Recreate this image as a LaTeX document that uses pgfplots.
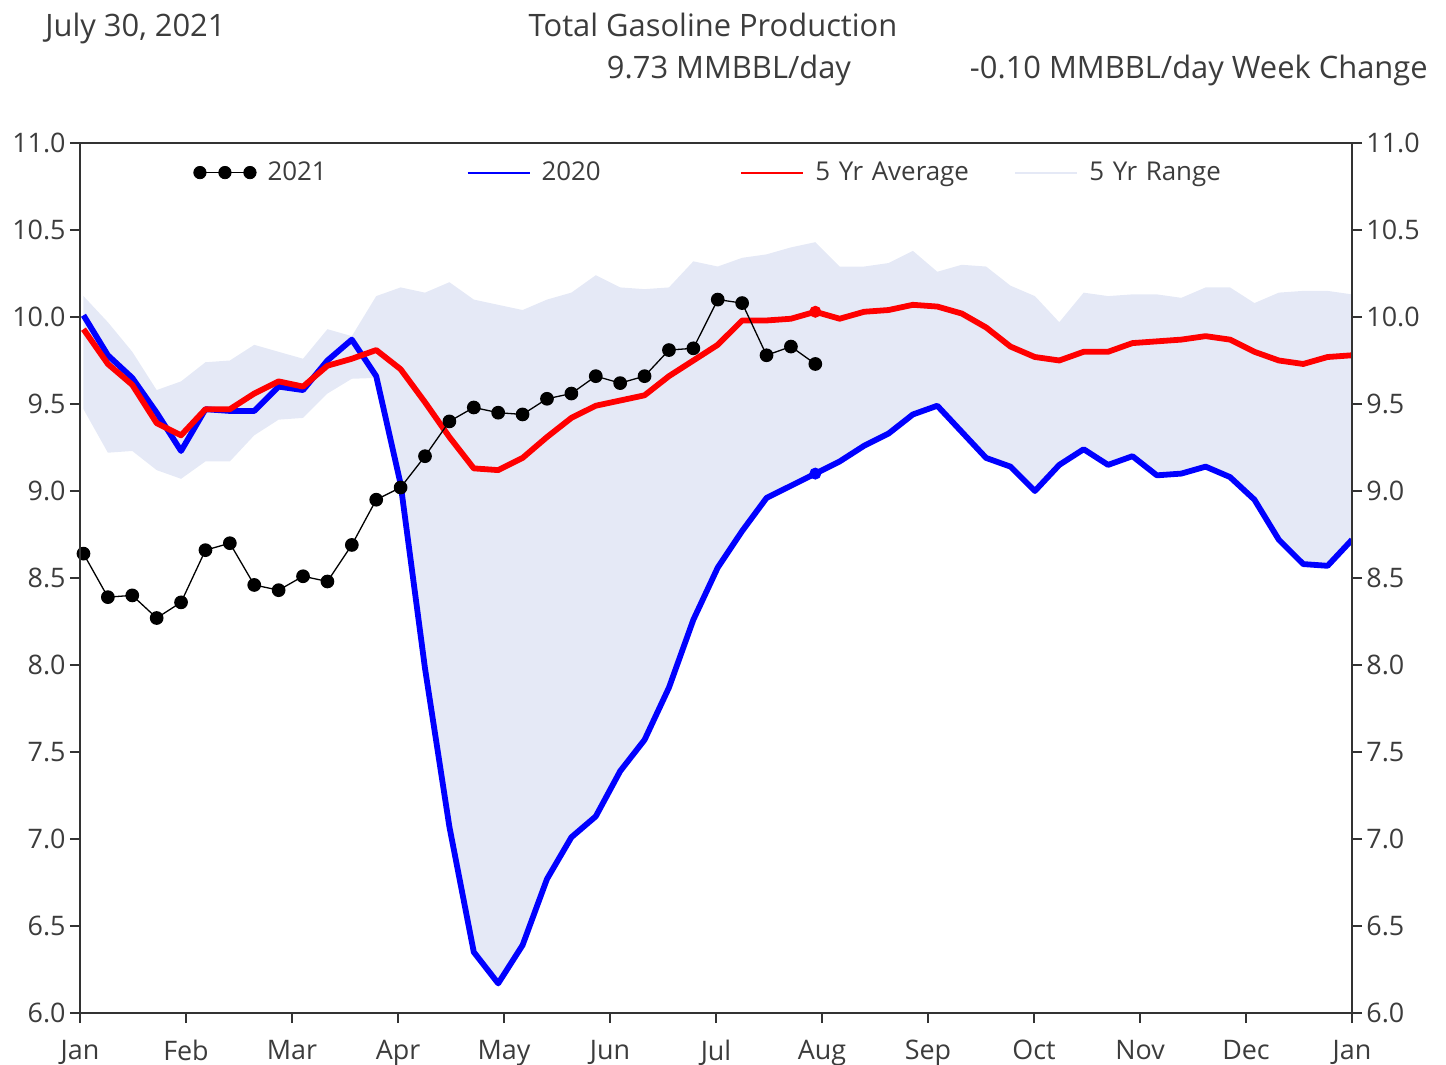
\documentclass[border=0pt]{standalone}
\usepackage{fontspec}
\setmainfont{Open Sans}
\usepackage{pgfplots}
\usepackage{pgfplotstable}
\pgfplotsset{compat=1.18}
\definecolor{txt}{RGB}{60,60,60}
\definecolor{rangecol}{RGB}{229,233,246}
\definecolor{ublue}{RGB}{0,0,255}
\definecolor{ured}{RGB}{255,0,0}

\pgfplotstableread{
x y20 avg
1 10.01 9.93
8 9.78 9.73
15 9.65 9.61
22 9.45 9.39
29 9.23 9.32
36 9.47 9.47
43 9.46 9.47
50 9.46 9.56
57 9.60 9.63
64 9.58 9.60
71 9.75 9.72
78 9.87 9.76
85 9.66 9.81
92 9.04 9.70
99 7.98 9.51
106 7.07 9.31
113 6.35 9.13
120 6.17 9.12
127 6.39 9.19
134 6.77 9.31
141 7.01 9.42
148 7.13 9.49
155 7.39 9.52
162 7.57 9.55
169 7.87 9.66
176 8.26 9.75
183 8.56 9.84
190 8.77 9.98
197 8.96 9.98
204 9.03 9.99
211 9.10 10.03
218 9.17 9.99
225 9.26 10.03
232 9.33 10.04
239 9.44 10.07
246 9.49 10.06
253 9.34 10.02
260 9.19 9.94
267 9.14 9.83
274 9.00 9.77
281 9.15 9.75
288 9.24 9.80
295 9.15 9.80
302 9.20 9.85
309 9.09 9.86
316 9.10 9.87
323 9.14 9.89
330 9.08 9.87
337 8.95 9.80
344 8.72 9.75
351 8.58 9.73
358 8.57 9.77
365 8.72 9.78
}\maintab

% 5 yr range polygon: upper bound forward, lower bound backward
\pgfplotstableread{
x y
1 10.12
8 9.97
15 9.80
22 9.58
29 9.63
36 9.74
43 9.75
50 9.84
57 9.80
64 9.76
71 9.93
78 9.89
85 10.12
92 10.17
99 10.14
106 10.20
113 10.10
120 10.07
127 10.04
134 10.10
141 10.14
148 10.24
155 10.17
162 10.16
169 10.17
176 10.32
183 10.29
190 10.34
197 10.36
204 10.40
211 10.43
218 10.29
225 10.29
232 10.31
239 10.38
246 10.26
253 10.30
260 10.29
267 10.18
274 10.12
281 9.97
288 10.14
295 10.12
302 10.13
309 10.13
316 10.11
323 10.17
330 10.17
337 10.08
344 10.14
351 10.15
358 10.15
365 10.13
365 8.72
358 8.57
351 8.58
344 8.72
337 8.95
330 9.08
323 9.14
316 9.10
309 9.09
302 9.20
295 9.15
288 9.24
281 9.15
274 9.00
267 9.14
260 9.19
253 9.34
246 9.49
239 9.44
232 9.33
225 9.26
218 9.17
211 9.10
204 9.03
197 8.96
190 8.77
183 8.56
176 8.26
169 7.87
162 7.57
155 7.39
148 7.13
141 7.01
134 6.77
127 6.39
120 6.17
113 6.35
106 7.07
99 7.98
92 9.04
85 9.65
78 9.645
71 9.56
64 9.42
57 9.41
50 9.32
43 9.17
36 9.17
29 9.07
22 9.12
15 9.23
8 9.22
1 9.47
}\rangetab

\pgfplotstableread{
x y21
1 8.64
8 8.39
15 8.40
22 8.27
29 8.36
36 8.66
43 8.70
50 8.46
57 8.43
64 8.51
71 8.48
78 8.69
85 8.95
92 9.02
99 9.20
106 9.40
113 9.48
120 9.45
127 9.44
134 9.53
141 9.56
148 9.66
155 9.62
162 9.66
169 9.81
176 9.82
183 10.10
190 10.08
197 9.78
204 9.83
211 9.73
}\tabtwentyone

\begin{document}
\begin{tikzpicture}
\path[use as bounding box] (-40bp,-26bp) rectangle (683bp,506.5bp);
\pgfplotsset{
  common/.style={
    scale only axis, width=636bp, height=435bp,
    xmin=0, xmax=365, ymin=6, ymax=11,
    ytick={6,6.5,7,7.5,8,8.5,9,9.5,10,10.5,11},
    yticklabels={6.0,6.5,7.0,7.5,8.0,8.5,9.0,9.5,10.0,10.5,11.0},
    tick align=outside,
    major tick length=5bp,
    tick style={black!80, line width=0.8bp},
    axis line style={black!80, line width=1bp},
    tick label style={font=\fontsize{13.5}{15}\selectfont, text=txt},
    yticklabel style={inner xsep=2bp},
  }
}
\begin{axis}[common,
  xtick={0,30.4167,60.8333,91.25,121.6667,152.0833,182.5,212.9167,243.3333,273.75,304.1667,334.5833,365},
  xticklabels={Jan,Feb,Mar,Apr,May,Jun,Jul,Aug,Sep,Oct,Nov,Dec,Jan},
  xtick pos=left, ytick pos=left,
  xticklabel style={yshift=-5bp},
  legend columns=4,
  legend style={draw=none, fill=none, at={(axis description cs:0.0888,0.966)}, anchor=west,
    font=\fontsize{13}{15}\selectfont, text=txt, inner sep=0pt,
    /tikz/every odd column/.append style={column sep=3.5bp},
    /tikz/every even column/.append style={text width=97.5bp, inner xsep=0pt}},
  legend cell align=left,
]
\addplot[fill=rangecol, draw=none, forget plot] table[x=x, y=y] {\rangetab} -- cycle;

\addplot[ublue, line width=2.9bp, line join=round, forget plot] table[x=x, y=y20] {\maintab};
\addplot[ured, line width=2.9bp, line join=round, forget plot] table[x=x, y=avg] {\maintab};
\addplot[only marks, mark=*, mark size=2.8bp, ublue, forget plot] coordinates {(211,9.10)};
\addplot[only marks, mark=*, mark size=2.8bp, ured, forget plot] coordinates {(211,10.03)};
\addplot[black, line width=0.65bp, mark=*, mark size=3.1bp, forget plot] table[x=x, y=y21] {\tabtwentyone};

\addlegendimage{legend image code/.code={\draw[black, line width=0.65bp] (0bp,0bp) -- (25bp,0bp); \fill[black] (0bp,0bp) circle (3.1bp) (12.5bp,0bp) circle (3.1bp) (25bp,0bp) circle (3.1bp);}}
\addlegendentry{2021}
\addlegendimage{legend image code/.code={\draw[ublue, line width=1bp] (0bp,0bp) -- (31bp,0bp);}}
\addlegendentry{2020}
\addlegendimage{legend image code/.code={\draw[ured, line width=1bp] (0bp,0bp) -- (31bp,0bp);}}
\addlegendentry{5 Yr Average}
\addlegendimage{legend image code/.code={\draw[rangecol, line width=1bp] (0bp,0bp) -- (31bp,0bp);}}
\addlegendentry{5 Yr Range}
\end{axis}
\begin{axis}[common,
  xtick=\empty,
  ytick pos=right,
  yticklabel pos=right,
]
\addplot[draw=none, forget plot] coordinates {(0,6) (365,11)};
\end{axis}
\begin{scope}[every node/.style={inner sep=0pt, text=txt, font=\fontsize{15.5}{18}\selectfont}]
\node[anchor=base west] at (-17.5bp,488bp) {July 30, 2021};
\node[anchor=base] at (316.5bp,488bp) {Total Gasoline Production};
\node[anchor=base] at (324.5bp,467bp) {9.73 MMBBL/day};
\node[anchor=base east] at (674bp,467bp) {-0.10 MMBBL/day Week Change};
\end{scope}
\end{tikzpicture}
\end{document}
